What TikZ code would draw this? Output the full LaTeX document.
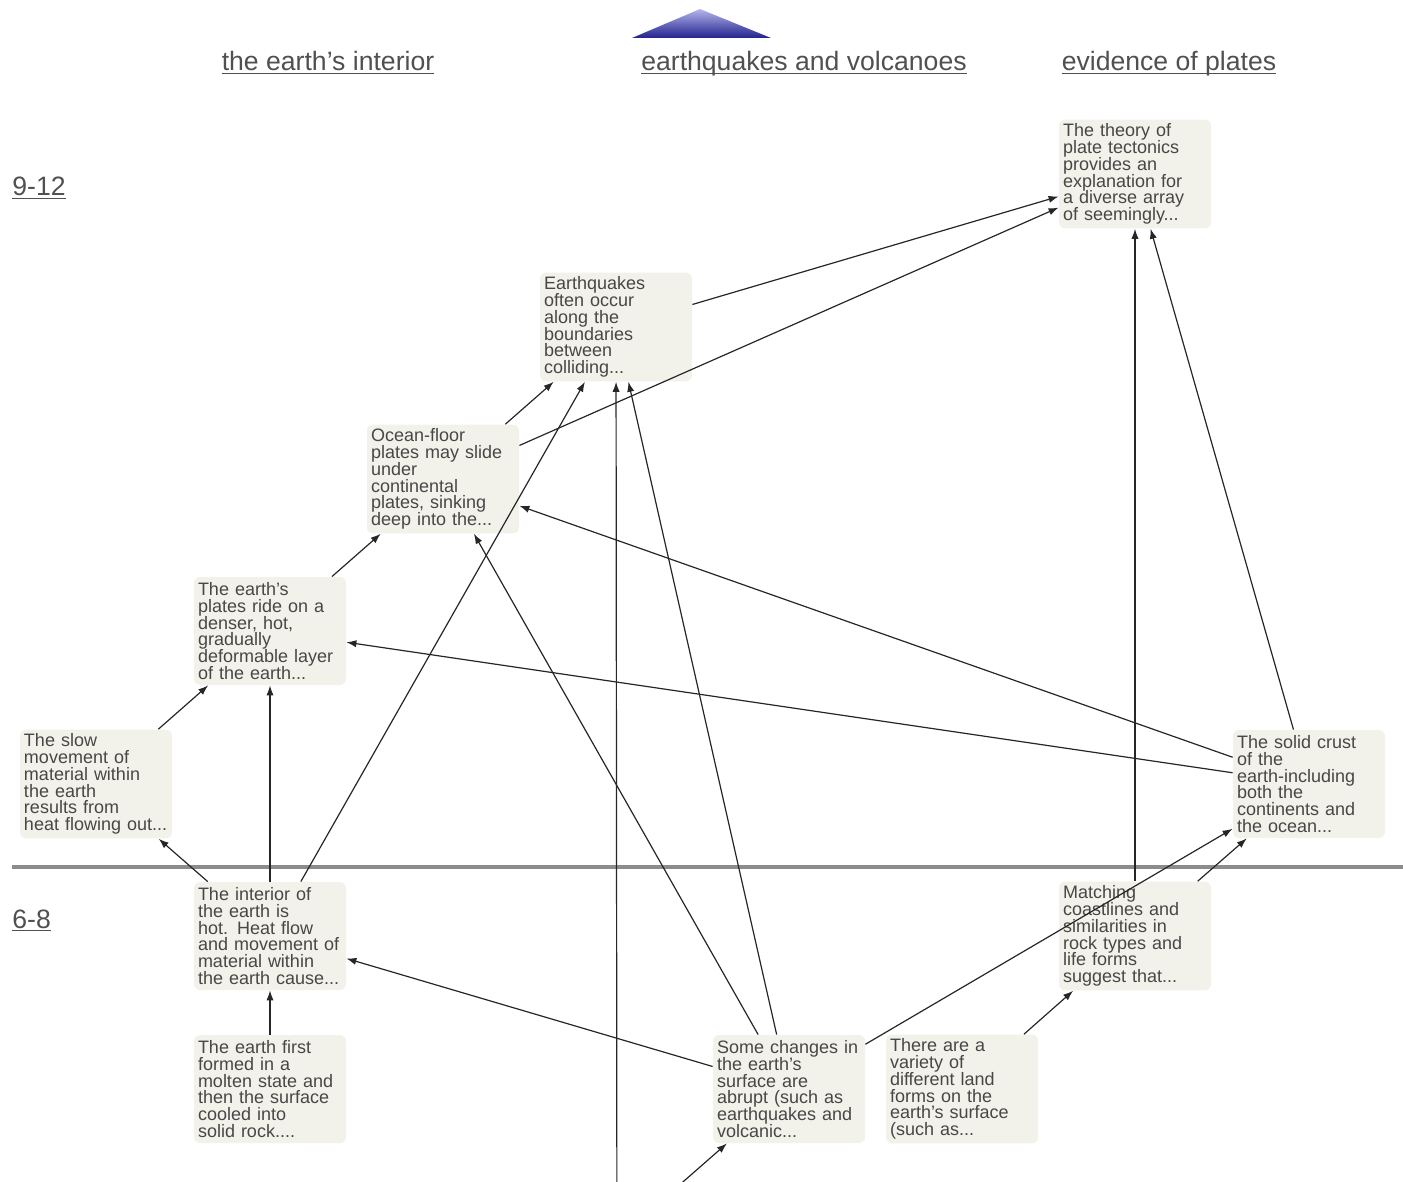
\documentclass[tikz,border=0pt]{standalone}
\usepackage{fontspec}
\setmainfont{Liberation Sans}
\usepackage{tikz}
\usetikzlibrary{arrows.meta}
\definecolor{boxfill}{HTML}{F2F2EA}
\definecolor{boxtext}{HTML}{474747}
\definecolor{headgray}{HTML}{505050}
\definecolor{triatop}{HTML}{B4B4EC}
\definecolor{triabot}{HTML}{22228E}

\begin{document}
\begin{tikzpicture}[x=0.5pt,y=-0.5pt,
    concept/.style={fill=boxfill, rounded corners=3pt, text=boxtext,
        font=\fontsize{9}{8.4}\selectfont, text width=72pt, align=left,
        inner xsep=2pt, inner ysep=2pt, minimum height=54pt},
    band/.style={text=headgray, font=\fontsize{13.3}{15}\selectfont, inner sep=0pt},
    link/.style={-{Latex[length=5pt,width=3.6pt]}, line width=0.6pt, black!85}]
        \useasboundingbox (0,0) rectangle (1403,1182);
        \shade[top color=triatop, bottom color=triabot] (632,38) -- (700,9) -- (771,38) -- cycle;
        \node[band, anchor=base] (hinterior) at (328,71) {\underline{\smash{the earth's interior}}};
        \node[band, anchor=base] (hquakes) at (804,71) {\underline{\smash{earthquakes and volcanoes}}};
        \node[band, anchor=base] (hplates) at (1169,71) {\underline{\smash{evidence of plates}}};
        \node[band, anchor=base west] (grade912) at (12,196) {\underline{\smash{9-12}}};
        \node[band, anchor=base west] (grade68) at (12,928) {\underline{\smash{6-8}}};
        \draw[line width=2pt, black!45] (12,867) -- (1403,867);

        \node[concept] (theory) at (1135,174) {The theory of\\plate tectonics\\provides an\\explanation for\\a diverse array\\of seemingly...};
        \node[concept] (quakes) at (616,327) {Earthquakes\\often occur\\along the\\boundaries\\between\\colliding...};
        \node[concept] (oceanfloor) at (443,479) {Ocean-floor\\plates may slide\\under\\continental\\plates, sinking\\deep into the...};
        \node[concept] (platesride) at (270,631) {The earth's\\plates ride on a\\denser, hot,\\gradually\\deformable layer\\of the earth...};
        \node[concept] (slowmove) at (96,784) {The slow\\movement of\\material within\\the earth\\results from\\heat flowing out...};
        \node[concept] (solidcrust) at (1309,784) {The solid crust\\of the\\earth-including\\both the\\continents and\\the ocean...};
        \node[concept] (interior) at (270,936) {The interior of\\the earth is\\hot. Heat flow\\and movement of\\material within\\the earth cause...};
        \node[concept] (matching) at (1135,936) {Matching\\coastlines and\\similarities in\\rock types and\\life forms\\suggest that...};
        \node[concept] (firstformed) at (270,1089) {The earth first\\formed in a\\molten state and\\then the surface\\cooled into\\solid rock....};
        \node[concept] (abrupt) at (789,1089) {Some changes in\\the earth's\\surface are\\abrupt (such as\\earthquakes and\\volcanic...};
        \node[concept] (landforms) at (962,1089) {There are a\\variety of\\different land\\forms on the\\earth's surface\\(such as...};
        \coordinate (belowa) at (617,1300);
        \coordinate (belowb) at (628,1230);

        \draw[link] (quakes) -- (theory);
        \draw[link] (oceanfloor) -- (theory);
        \draw[link] (oceanfloor) -- (quakes);
        \draw[link] (platesride) -- (oceanfloor);
        \draw[link] (slowmove) -- (platesride);
        \draw[link] (interior) -- (slowmove);
        \draw[link] (interior) -- (platesride);
        \draw[link] (interior) -- (quakes);
        \draw[link] (firstformed) -- (interior);
        \draw[link] (abrupt) -- (interior);
        \draw[link] (abrupt) -- (oceanfloor);
        \draw[link] (abrupt) -- (quakes);
        \draw[link] (belowa) -- (quakes);
        \draw[link] (belowb) -- (abrupt);
        \draw[link] (abrupt) -- (solidcrust);
        \draw[link] (matching) -- (solidcrust);
        \draw[link] (matching) -- (theory);
        \draw[link] (solidcrust) -- (theory);
        \draw[link] (solidcrust) -- (oceanfloor);
        \draw[link] (solidcrust) -- (platesride);
        \draw[link] (landforms) -- (matching);
\end{tikzpicture}
\end{document}
